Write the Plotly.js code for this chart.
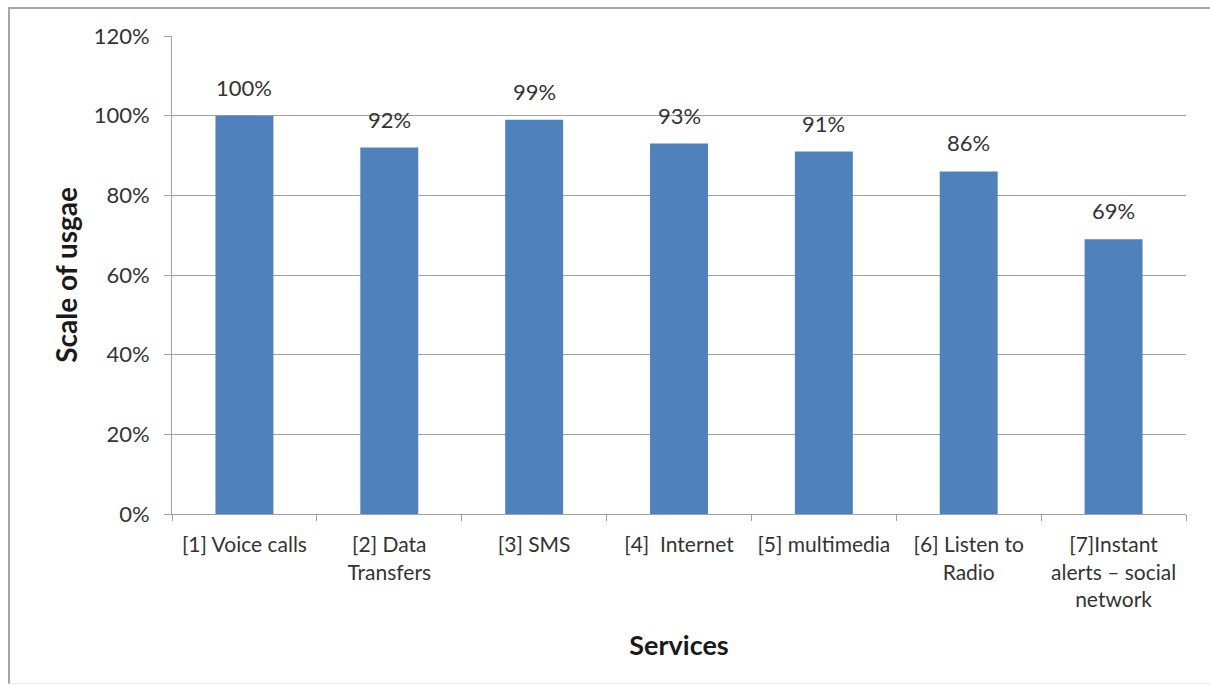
<!DOCTYPE html>
<html>
<head>
<meta charset="utf-8">
<script src="https://cdn.plot.ly/plotly-3.0.1.min.js"></script>
<style>
  html, body { margin: 0; padding: 0; background: #fff; }
  #wrap { position: relative; width: 1210px; height: 693px; }
  #chart { width: 1210px; height: 693px; }
  #frame { position: absolute; left: 8px; top: 7px; width: 1202px; height: 677px;
           border-left: 2px solid #a6a6a6; border-top: 2px solid #a6a6a6;
           border-bottom: 1px solid #ececec; pointer-events: none; box-sizing: border-box; }
</style>
</head>
<body>
<div id="wrap">
  <div id="chart"></div>
  <div id="frame"></div>
</div>
<script>
// Service categories (tick labels) and the share of usage for each
const services = [
  "[1] Voice calls",
  "[2] Data<br>Transfers",
  "[3] SMS",
  "[4]  Internet",
  "[5] multimedia",
  "[6] Listen to<br>Radio",
  "[7]Instant<br>alerts \u2013 social<br>network"
];
const usage = [1.00, 0.92, 0.99, 0.93, 0.91, 0.86, 0.69];
const yTicks = [0, 0.2, 0.4, 0.6, 0.8, 1.0, 1.2];

const font = "Lato, 'Open Sans', sans-serif";
const textColor = "#333333";
const lineColor = "#a0a0a0";

const bars = {
  type: "bar",
  x: services,
  y: usage,
  width: 0.4,
  marker: { color: "#4f81bd", line: { width: 0 } },
  hoverinfo: "skip"
};

// Value labels placed above each bar
const labels = services.map((s, i) => ({
  x: s,
  y: usage[i],
  xref: "x",
  yref: "y",
  text: Math.round(usage[i] * 100) + "%",
  showarrow: false,
  yanchor: "bottom",
  yshift: 13,
  font: { family: font, size: 22, color: textColor }
}));

const layout = {
  width: 1210,
  height: 693,
  margin: { l: 172, r: 24, t: 36, b: 179, pad: 0 },
  paper_bgcolor: "#ffffff",
  plot_bgcolor: "#ffffff",
  showlegend: false,
  bargap: 0.6,
  font: { family: font, color: textColor },
  xaxis: {
    type: "category",
    showgrid: false,
    showline: true,
    linecolor: lineColor,
    linewidth: 1,
    ticks: "outside",
    tickson: "boundaries",
    ticklen: 6,
    tickcolor: lineColor,
    ticklabelstandoff: 12,
    tickfont: { family: font, size: 21, color: textColor },
    title: { text: "Services", font: { family: font, size: 27, color: "#1a1a1a", weight: "bold" }, standoff: 26 },
    automargin: false
  },
  yaxis: {
    range: [0, 1.2],
    tickvals: yTicks,
    tickformat: ".0%",
    showgrid: true,
    gridcolor: lineColor,
    gridwidth: 1,
    showline: true,
    linecolor: lineColor,
    linewidth: 1,
    ticks: "outside",
    ticklen: 7,
    tickcolor: lineColor,
    ticklabelstandoff: 10,
    tickfont: { family: font, size: 22, color: textColor },
    zeroline: false,
    title: { text: "Scale of usgae", font: { family: font, size: 28, color: "#1a1a1a", weight: "bold" }, standoff: 7 },
    automargin: false,
    fixedrange: true
  },
  annotations: labels
};

Plotly.newPlot("chart", [bars], layout, { displayModeBar: false, staticPlot: true });
</script>
</body>
</html>
